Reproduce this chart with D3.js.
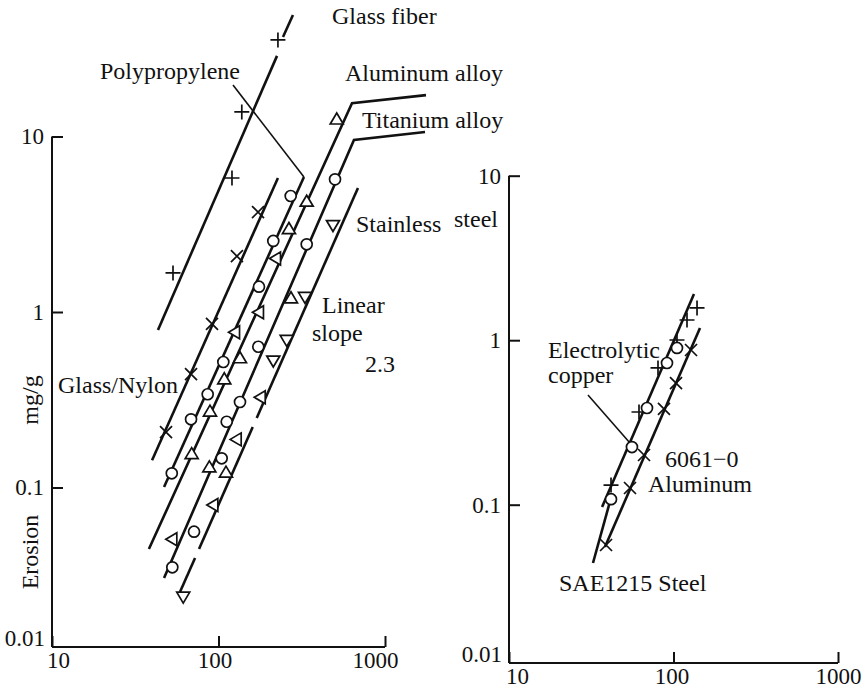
<!DOCTYPE html>
<html>
<head>
<meta charset="utf-8">
<script src="https://cdn.jsdelivr.net/npm/d3@7"></script>
<style>
  body { margin: 0; background: #fff; }
  svg text { font-family: "Liberation Serif", "Times New Roman", serif; fill: #111; }
</style>
</head>
<body>
<svg width="867" height="689"></svg>
<script>
// axis ticks
const xTicks = [10, 100, 1000];
const yTicks = [0.1, 1, 10];

// ---- left panel: lines (arrays of segments, [velocity, erosion]) ----
const glassFiberLine = [[[43.3, 0.79], [224.6, 28.8]], [[244, 36.9], [280, 49.2]]];
const glassNylonLine = [[[39.9, 0.143], [227.5, 5.8]]];
const polyLine = [[[47.1, 0.1007], [326, 5.88]]];
const aluminumLine = [[[38.2, 0.0446], [633.6, 15.5], [1763, 17.2]]];
const titaniumLine = [[[47.1, 0.0305], [651, 9.55], [1739, 10.6]]];
const stainlessLine = [[[58.7, 0.0254], [72.3, 0.0397]], [[76.4, 0.0446], [160.5, 0.2212]], [[169.6, 0.2489], [688, 5.09]]];

// ---- left panel: measured points ----
const glassFiberPts = [[53.3, 1.67], [120.5, 5.8], [138, 13.8], [227.5, 35.5]];
const glassNylonPts = [[48.4, 0.207], [68.4, 0.443], [91.4, 0.855], [129, 2.08], [172.7, 3.71]];
const polyPts = [[52.4, 0.1205], [68.4, 0.2446], [86.1, 0.34], [106.9, 0.519], [175, 1.394], [213.3, 2.54], [271.4, 4.58]];
const aluminumPts = [[69, 0.155], [88.9, 0.2704], [108.3, 0.4136], [134.6, 0.545], [265, 2.97], [338.6, 4.25], [513, 12.5], [272.5, 1.197], [88.1, 0.1303], [110.9, 0.1215]];
const titaniumPts = [[52.8, 0.0351], [71.3, 0.056], [104.5, 0.1467], [112, 0.237], [134.6, 0.307], [173.4, 0.634], [338.6, 2.43], [501, 5.7]];
const stainlessPts = [[61.4, 0.0239], [213.3, 0.529], [256.8, 0.693], [330.7, 1.22], [487, 3.13]];
const tiltedPts = [[52.8, 0.0507], [93.1, 0.0795], [128.6, 0.188], [179.3, 0.3266], [125.7, 0.766], [175, 0.996], [221.5, 2.02]];

// leader: Polypropylene label -> line end
const polyLeader = [[122.2, 19.65], [326, 5.88]];

// ---- right panel ----
const steelLine = [[[36.8, 0.0968], [133.2, 1.91]]];
const copperLine = [[[32.4, 0.0442], [42.3, 0.116]]];
const al6061Line = [[[38.3, 0.0553], [144.9, 1.186]]];
const steelPts = [[41.7, 0.1317], [61.7, 0.366], [80.5, 0.678], [105, 1.003], [120.8, 1.327], [139, 1.57]];
const copperPts = [[41.7, 0.108], [55.9, 0.224], [69, 0.387], [91.3, 0.727], [105, 0.897]];
const al6061Pts = [[38.9, 0.0569], [54.4, 0.1263], [66.2, 0.2005], [87.5, 0.382], [103.6, 0.549], [127.8, 0.872]];
const copperLeader = [[30.2, 0.4644], [54.4, 0.237]];

const svg = d3.select("svg");

const xL = d3.scaleLog().domain([10, 1000]).range([52, 385]);
const yL = d3.scaleLog().domain([0.1, 10]).range([487.5, 136.5]);
const xR = d3.scaleLog().domain([10, 1000]).range([509, 838]);
const yR = d3.scaleLog().domain([0.1, 10]).range([504.7, 175.7]);

function markerPath(shape) {
  switch (shape) {
    case "plus": return "M-7.5,0H7.5M0,-7.5V7.5";
    case "cross": return "M-6,-6L6,6M-6,6L6,-6";
    case "up": return "M0,-6.5L6.5,4.5L-6.5,4.5Z";
    case "down": return "M0,6.5L6.5,-4.5L-6.5,-4.5Z";
    case "left": return "M-6.5,0L4.5,-6.5L4.5,6.5Z";
  }
}

function drawAxes(x, y, bottom, xdx) {
  const x0 = x.range()[0];
  const g = svg.append("g");
  g.append("line").attr("x1", x0).attr("x2", x0).attr("y1", y(10)).attr("y2", bottom)
    .attr("stroke", "#111").attr("stroke-width", 2);
  g.append("line").attr("x1", x0).attr("x2", x.range()[1]).attr("y1", bottom).attr("y2", bottom)
    .attr("stroke", "#111").attr("stroke-width", 2);

  const ya = g.append("g").attr("transform", `translate(${x0},0)`)
    .call(d3.axisLeft(y).tickValues(yTicks).tickFormat(String).tickSize(-11).tickPadding(8));
  const xa = g.append("g").attr("transform", `translate(0,${bottom})`)
    .call(d3.axisBottom(x).tickValues(xTicks).tickFormat(String).tickSize(-11).tickPadding(5));
  [ya, xa].forEach(a => {
    a.select(".domain").remove();
    a.attr("font-family", null).attr("font-size", null);
    a.selectAll("line").attr("stroke", "#111").attr("stroke-width", 2);
    a.selectAll("text").attr("font-size", 23).attr("fill", "#111");
  });
  xa.selectAll("text").attr("dx", (d, i) => xdx[i]);
  g.append("text").attr("x", x0 - 7).attr("y", bottom - 8).attr("dy", "0.32em")
    .attr("text-anchor", "end").attr("font-size", 23).text("0.01");
}

function drawSeries(x, y, series) {
  const line = d3.line().x(d => x(d[0])).y(d => y(d[1]));
  series.forEach(s => {
    s.line.forEach(seg => {
      svg.append("path").attr("d", line(seg)).attr("fill", "none")
        .attr("stroke", "#111").attr("stroke-width", 2.6);
    });
  });
  series.forEach(s => {
    if (s.shape === "circle") {
      svg.append("g").selectAll("circle").data(s.pts).join("circle")
        .attr("cx", d => x(d[0])).attr("cy", d => y(d[1])).attr("r", 5.5)
        .attr("fill", "#fff").attr("stroke", "#111").attr("stroke-width", 1.7);
    } else {
      svg.append("g").selectAll("path").data(s.pts).join("path")
        .attr("transform", d => `translate(${x(d[0])},${y(d[1])})`)
        .attr("d", markerPath(s.shape))
        .attr("fill", s.shape === "plus" || s.shape === "cross" ? "none" : "#fff")
        .attr("stroke", "#111").attr("stroke-width", 1.7);
    }
  });
}

function leader(x, y, pts) {
  svg.append("path").attr("d", d3.line().x(d => x(d[0])).y(d => y(d[1]))(pts))
    .attr("fill", "none").attr("stroke", "#111").attr("stroke-width", 1.6);
}

function label(txt, x, y, size = 24) {
  svg.append("text").attr("x", x).attr("y", y).attr("font-size", size).text(txt);
}

// ---- left panel ----
drawAxes(xL, yL, 647, [6, -4, -10]);
leader(xL, yL, polyLeader);
drawSeries(xL, yL, [
  { line: glassFiberLine, pts: glassFiberPts, shape: "plus" },
  { line: glassNylonLine, pts: glassNylonPts, shape: "cross" },
  { line: polyLine, pts: polyPts, shape: "circle" },
  { line: aluminumLine, pts: aluminumPts, shape: "up" },
  { line: titaniumLine, pts: titaniumPts, shape: "circle" },
  { line: stainlessLine, pts: stainlessPts, shape: "down" },
  { line: [], pts: tiltedPts, shape: "left" }
]);

label("Glass fiber", 332, 24);
label("Polypropylene", 100, 79);
label("Aluminum alloy", 345, 81);
label("Titanium alloy", 362, 128);
label("Stainless", 356, 232);
label("steel", 454, 227);
label("Linear", 322, 313);
label("slope", 312, 341);
label("2.3", 365, 372);
label("Glass/Nylon", 58, 393);

svg.append("text").attr("transform", "translate(38,552) rotate(-90)")
  .attr("text-anchor", "middle").attr("font-size", 24).text("Erosion");
svg.append("text").attr("transform", "translate(38,400) rotate(-90)")
  .attr("text-anchor", "middle").attr("font-size", 24).text("mg/g");

// ---- right panel ----
drawAxes(xR, yR, 663, [8, -2, 0]);
leader(xR, yR, copperLeader);
drawSeries(xR, yR, [
  { line: steelLine, pts: steelPts, shape: "plus" },
  { line: copperLine, pts: copperPts, shape: "circle" },
  { line: al6061Line, pts: al6061Pts, shape: "cross" }
]);

label("Electrolytic", 548, 358);
label("copper", 548, 383);
label("6061\u22120", 665, 467);
label("Aluminum", 648, 492);
label("SAE1215 Steel", 559, 591);
</script>
</body>
</html>
